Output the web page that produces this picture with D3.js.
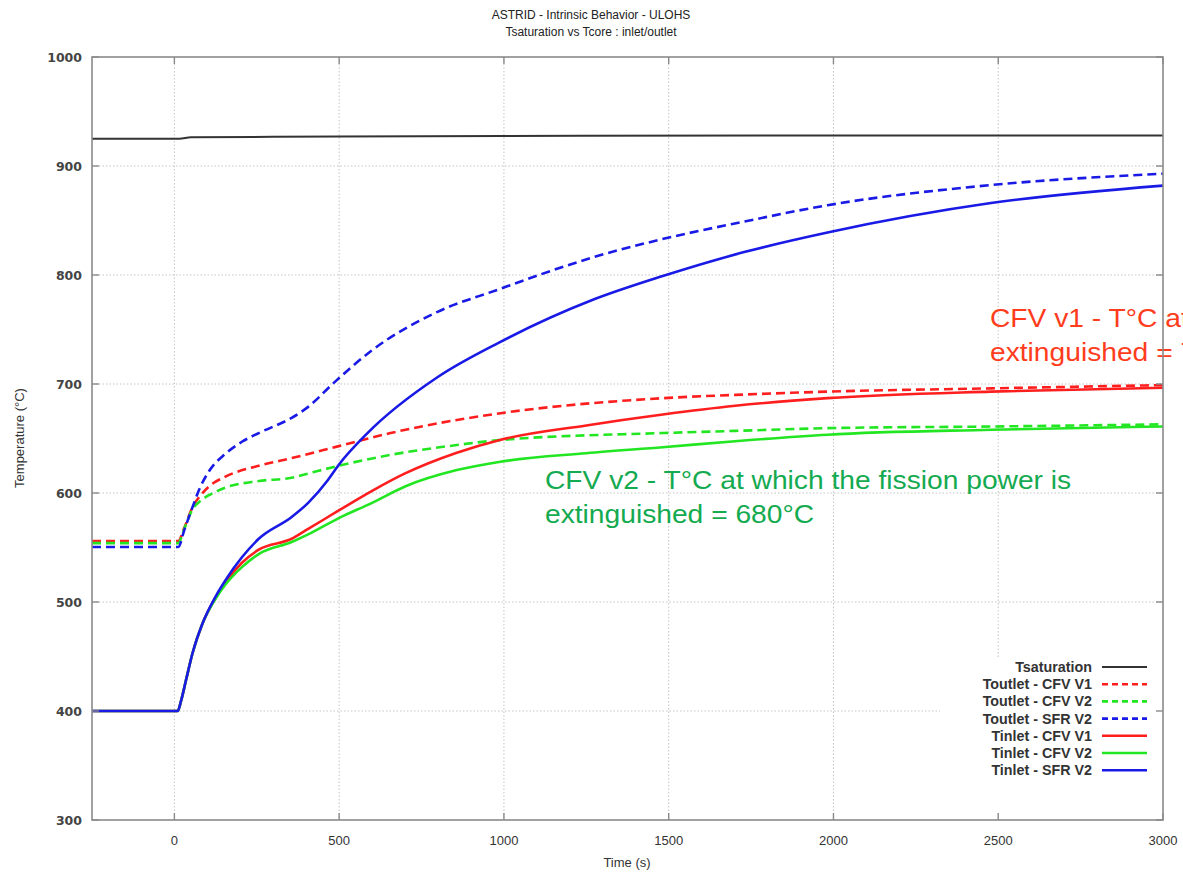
<!DOCTYPE html>
<html>
<head>
<meta charset="utf-8">
<script src="https://cdn.jsdelivr.net/npm/d3@7"></script>
<style>
  html, body { margin: 0; padding: 0; background: #fff; overflow: hidden; }
  svg { display: block; }
</style>
</head>
<body>
<svg id="chart" width="1183" height="874"></svg>
<script>
// ---------- data ----------
const titleLines = ["ASTRID - Intrinsic Behavior - ULOHS", "Tsaturation vs Tcore : inlet/outlet"];
const xTicks = [0, 500, 1000, 1500, 2000, 2500, 3000];
const yTicks = [300, 400, 500, 600, 700, 800, 900, 1000];

const tsatTime = [-250, 15, 50, 500, 1000, 2000, 3000];
const tsatTemp = [925, 925, 926.3, 927, 927.5, 928, 928];

const outCFV1Time = [-250, 12, 30, 55, 80, 105, 155, 256, 356, 499, 656, 857, 985, 1482, 1702, 1982, 2478, 3000];
const outCFV1Temp = [556, 556, 568, 587, 598, 606, 615, 625, 632, 643, 655, 667, 673, 687, 690, 693, 696, 699];

const outCFV2Time = [-250, 12, 30, 55, 80, 105, 155, 256, 356, 420, 499, 656, 857, 985, 1482, 1702, 1982, 2478, 3000];
const outCFV2Temp = [554, 554, 567, 585, 593, 598, 605, 611, 614, 619, 625, 635, 644, 648.5, 655, 657, 659.5, 661, 663];

const outSFRTime = [-250, 12, 30, 55, 75, 105, 155, 205, 256, 356, 406, 480, 600, 797, 986, 1106, 1268, 1468, 1729, 1982, 2478, 3000];
const outSFRTemp = [550.5, 550.5, 566, 587, 603, 620, 636, 647, 655, 669, 679, 700, 731, 766, 787, 800, 816, 832, 849, 864, 882.5, 893];

const inSFRTime = [-250, 10, 20, 35, 55, 85, 125, 155, 205, 256, 356, 406, 466, 499, 586, 797, 985, 1268, 1482, 1729, 1982, 2478, 3000];
const inSFRTemp = [400, 400, 409, 428, 453, 480, 505, 520, 541, 558, 578, 591, 612, 626, 655, 706, 738, 777, 799, 821, 839, 866, 882];

const inCFV1Time = [-250, 10, 20, 35, 55, 85, 125, 155, 205, 256, 356, 406, 499, 600, 700, 857, 985, 1250, 1482, 1702, 1982, 2478, 3000];
const inCFV1Temp = [400, 400, 409, 428, 453, 480, 504, 518, 536, 548, 558, 567, 584, 602, 618, 637, 648.5, 662, 672, 680, 687, 693, 696.5];

const inCFV2Time = [-250, 10, 20, 35, 55, 85, 125, 155, 205, 256, 356, 406, 499, 600, 700, 857, 985, 1250, 1482, 1702, 1982, 2478, 3000];
const inCFV2Temp = [400, 400, 409, 428, 453, 480, 503, 516, 532, 544, 555, 562, 577, 591, 606, 621, 628.5, 636.5, 642, 647.5, 653.5, 658, 661];

const seriesNames = ["Tsaturation", "Toutlet - CFV V1", "Toutlet - CFV V2", "Toutlet - SFR V2",
                     "Tinlet - CFV V1", "Tinlet - CFV V2", "Tinlet - SFR V2"];
const seriesTimes = [tsatTime, outCFV1Time, outCFV2Time, outSFRTime, inCFV1Time, inCFV2Time, inSFRTime];
const seriesTemps = [tsatTemp, outCFV1Temp, outCFV2Temp, outSFRTemp, inCFV1Temp, inCFV2Temp, inSFRTemp];
const seriesColors = ["#333333", "#ff1e1e", "#22e622", "#1a1ae6", "#ff1e1e", "#22e622", "#1a1ae6"];
const seriesDashed = [false, true, true, true, false, false, false];

const noteV2 = ["CFV v2 - T°C at which the fission power is", "extinguished = 680°C"];
const noteV1 = ["CFV v1 - T°C at which the fission power is", "extinguished = 700°C"];

// ---------- layout ----------
const svg = d3.select("#chart");
const L = 92, R = 1163, T = 57, B = 820;
const x = d3.scaleLinear().domain([-250, 3000]).range([L, R]);
const y = d3.scaleLinear().domain([300, 1000]).range([B, T]);

// grid
const grid = svg.append("g");
grid.selectAll("line.vg").data(xTicks.filter(d => d > -250 && d < 3000)).enter().append("line")
  .attr("x1", d => x(d)).attr("x2", d => x(d)).attr("y1", T).attr("y2", B)
  .attr("stroke", "#c4c4c4").attr("stroke-width", 1).attr("stroke-dasharray", "1.5,2");
grid.selectAll("line.hg").data(yTicks.filter(d => d > 300 && d < 1000)).enter().append("line")
  .attr("x1", L).attr("x2", R).attr("y1", d => y(d)).attr("y2", d => y(d))
  .attr("stroke", "#c4c4c4").attr("stroke-width", 1).attr("stroke-dasharray", "1.5,2");

// legend background (hides grid)
svg.append("rect").attr("x", 940).attr("y", 658).attr("width", R - 940 - 1).attr("height", B - 658 - 1)
  .attr("fill", "#fff");

// series
const line = d3.line().x(d => x(d[0])).y(d => y(d[1])).curve(d3.curveMonotoneX);
seriesNames.forEach((n, i) => {
  const pts = seriesTimes[i].map((t, k) => [t, seriesTemps[i][k]]);
  svg.append("path").datum(pts).attr("d", line)
    .attr("fill", "none").attr("stroke", seriesColors[i])
    .attr("stroke-width", i === 0 ? 2 : 2.6)
    .attr("stroke-dasharray", seriesDashed[i] ? "9,5" : null)
    .attr("stroke-linejoin", "round");
});

// annotations (text stretched horizontally like the reference)
const annF = "'Liberation Sans', Arial, sans-serif";
function note(lines, x0, y0, color) {
  lines.forEach((t, i) => {
    svg.append("text")
      .attr("transform", `translate(${x0},${y0 + i * 34}) scale(1.085,1)`)
      .attr("font-family", annF).attr("font-size", 26)
      .attr("fill", color).text(t);
  });
}
note(noteV2, 545, 489, "#14aa50");
note(noteV1, 990, 327, "#ff3c1c");

// frame
svg.append("rect").attr("x", L).attr("y", T).attr("width", R - L).attr("height", B - T)
  .attr("fill", "none").attr("stroke", "#8a8a8a").attr("stroke-width", 1.6);

// ticks (inward, mirrored)
const tk = 7;
const ticks = svg.append("g").attr("stroke", "#8a8a8a").attr("stroke-width", 1.4);
xTicks.forEach(d => {
  ticks.append("line").attr("x1", x(d)).attr("x2", x(d)).attr("y1", B).attr("y2", B - tk);
  ticks.append("line").attr("x1", x(d)).attr("x2", x(d)).attr("y1", T).attr("y2", T + tk);
});
yTicks.forEach(d => {
  ticks.append("line").attr("x1", L).attr("x2", L + tk).attr("y1", y(d)).attr("y2", y(d));
  ticks.append("line").attr("x1", R).attr("x2", R - tk).attr("y1", y(d)).attr("y2", y(d));
});

// tick labels
svg.append("g").selectAll("text").data(yTicks).enter().append("text")
  .attr("x", 82).attr("y", d => y(d)).attr("dy", "0.36em").attr("text-anchor", "end")
  .attr("font-family", "'DejaVu Sans', sans-serif").attr("font-weight", "bold").attr("font-size", 12.5)
  .attr("fill", "#444").text(d => d);
svg.append("g").selectAll("text").data(xTicks).enter().append("text")
  .attr("x", d => x(d)).attr("y", 845).attr("text-anchor", "middle")
  .attr("font-family", annF).attr("font-size", 13)
  .attr("fill", "#333").text(d => d);

// axis titles
svg.append("text").attr("x", 627).attr("y", 867).attr("text-anchor", "middle")
  .attr("font-family", annF).attr("font-size", 13).attr("fill", "#333").text("Time (s)");
svg.append("text").attr("transform", "translate(24,438) rotate(-90)").attr("text-anchor", "middle")
  .attr("font-family", annF).attr("font-size", 13).attr("fill", "#333").text("Temperature (°C)");

// title
titleLines.forEach((t, i) => {
  svg.append("text").attr("x", 591).attr("y", 19 + i * 17).attr("text-anchor", "middle")
    .attr("font-family", annF).attr("font-size", 12).attr("fill", "#222").text(t);
});

// legend
const lg = svg.append("g");
seriesNames.forEach((name, i) => {
  const yy = 667 + i * 17.2;
  lg.append("text").attr("x", 1092).attr("y", yy + 5).attr("text-anchor", "end")
    .attr("font-family", annF).attr("font-weight", "bold").attr("font-size", 14.3)
    .attr("fill", "#333").text(name);
  lg.append("line").attr("x1", 1102).attr("x2", 1147).attr("y1", yy).attr("y2", yy)
    .attr("stroke", seriesColors[i]).attr("stroke-width", i === 0 ? 2 : 2.6)
    .attr("stroke-dasharray", seriesDashed[i] ? "6,4" : null);
});
</script>
</body>
</html>
